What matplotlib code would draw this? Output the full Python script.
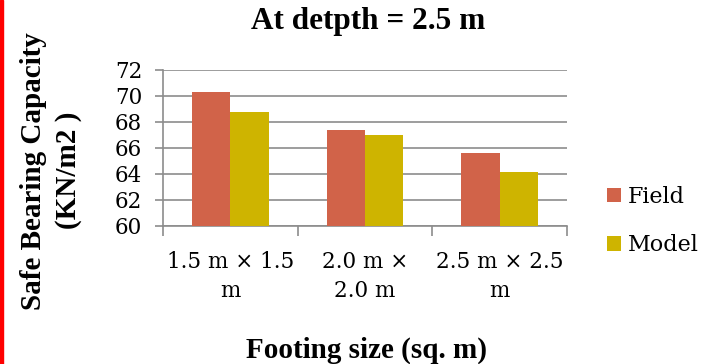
import matplotlib
matplotlib.use("Agg")
import matplotlib.pyplot as plt
from matplotlib.patches import Rectangle
import numpy as np

# Safe bearing capacity at a depth of 2.5 m
categories = ["1.5 m \u00d7 1.5\nm", "2.0 m \u00d7\n2.0 m", "2.5 m \u00d7 2.5\nm"]
field = [70.3, 67.4, 65.6]
model = [68.75, 67.0, 64.15]
series_names = ["Field", "Model"]
yticks = [60, 62, 64, 66, 68, 70, 72]

FIELD_C = "#D16349"
MODEL_C = "#CEB400"
GRID_C = "#8C8C8C"

serif_tick = "DejaVu Serif"
serif_bold = "Liberation Serif"

fig = plt.figure(figsize=(7.22, 3.64), dpi=100)
ax = fig.add_axes([163 / 722, 1 - 226 / 364, (567 - 163) / 722, (226 - 70) / 364])

x = np.arange(len(categories))
w = 0.285
ax.bar(x - w / 2, field, w, color=FIELD_C, label=series_names[0], zorder=3)
ax.bar(x + w / 2, model, w, color=MODEL_C, label=series_names[1], zorder=3)

ax.set_xlim(-0.5, len(categories) - 0.5)
ax.set_ylim(60, 72)
ax.set_yticks(yticks)
ax.set_yticklabels([str(v) for v in yticks], fontfamily=serif_tick, fontsize=15.5)
ax.yaxis.grid(True, color=GRID_C, linewidth=1.2, zorder=0)
ax.tick_params(axis="y", length=6, width=1.2, color=GRID_C, pad=9)

# boundary ticks between categories, labels centred on each group
ax.set_xticks(np.arange(-0.5, len(categories), 1.0))
ax.set_xticklabels([])
ax.tick_params(axis="x", which="major", length=7, width=1.2, color=GRID_C)
ax.set_xticks(x, minor=True)
ax.set_xticklabels(categories, minor=True, fontfamily=serif_tick, fontsize=15.5,
                   linespacing=1.42)
ax.tick_params(axis="x", which="minor", length=0, pad=18)

for s in ["top", "right"]:
    ax.spines[s].set_visible(False)
for s in ["left", "bottom"]:
    ax.spines[s].set_color(GRID_C)
    ax.spines[s].set_linewidth(1.2)

leg = ax.legend(loc="center left", bbox_to_anchor=(607 / 722, 1 - 221 / 364),
                bbox_transform=fig.transFigure, frameon=False,
                prop={"family": serif_tick, "size": 16},
                handlelength=0.64, handleheight=0.64, handletextpad=0.3,
                labelspacing=1.2, borderaxespad=0, borderpad=0)

fig.text(368 / 722, 1 - 29.5 / 364, "At detpth = 2.5 m", ha="center", va="baseline",
         fontfamily=serif_bold, fontweight="bold", fontsize=22.5)
fig.text(367 / 722, 1 - 358 / 364, "Footing size (sq. m)", ha="center", va="baseline",
         fontfamily=serif_bold, fontweight="bold", fontsize=21)
fig.text(34 / 722, 1 - 171 / 364, "Safe Bearing Capacity", rotation=90,
         ha="center", va="center", fontfamily=serif_bold, fontweight="bold", fontsize=21)
fig.text(69 / 722, 1 - 170 / 364, "(KN/m2 )", rotation=90,
         ha="center", va="center", fontfamily=serif_bold, fontweight="bold", fontsize=21)

# red border strip on the left edge
fig.patches.append(Rectangle((0, 0), 2.7 / 722, 1, transform=fig.transFigure,
                             color="#FF0000", zorder=10))

fig.savefig("out.png", dpi=100)
